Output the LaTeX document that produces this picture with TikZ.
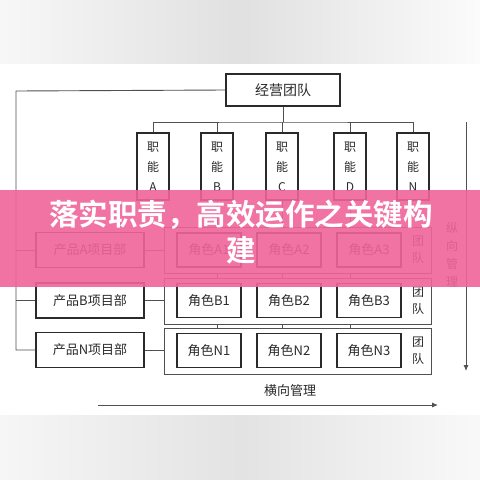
\documentclass[tikz,border=0pt]{standalone}
\usepackage{fontspec}
\newfontfamily\cjk{Noto Sans CJK SC}
\newfontfamily\cjkb{Noto Sans CJK SC Bold}
\usetikzlibrary{arrows.meta}
\definecolor{ln}{HTML}{2A2A2A}
\definecolor{cn}{HTML}{505050}
\definecolor{banner}{RGB}{240,100,155}
\tikzset{
  box/.style={draw=ln, line width=1.3pt, fill=white, inner sep=0pt, font=\cjk\fontsize{13}{15}\selectfont, text=ln},
  funcbox/.style={box, minimum width=32pt, minimum height=67pt, align=center, font=\cjk\fontsize{12}{20}\selectfont},
  projbox/.style={box, minimum width=108pt, minimum height=35pt},
  rolebox/.style={box, minimum width=64pt, minimum height=34pt},
  teambox/.style={draw=cn, line width=0.9pt, fill=white, inner sep=0pt, minimum width=267pt, minimum height=46pt},
  conn/.style={draw=cn, line width=0.9pt},
  lbl/.style={font=\cjk\fontsize{12}{18}\selectfont, text=ln, align=center, inner sep=0pt},
}
\begin{document}
\begin{tikzpicture}[x=1pt,y=-1pt]
\useasboundingbox (0,0) rectangle (480,480);
\fill[white] (0,0) rectangle (480,480);
% gray bands
\shade[left color=gray!6, right color=gray!3, middle color=gray!24] (0,0) rectangle (480,63);
\shade[left color=gray!7, right color=gray!5, middle color=gray!22] (0,415) rectangle (480,480);
% top node
\node[box, minimum width=114pt, minimum height=32pt, font=\cjk\fontsize{14}{16}\selectfont] (top) at (283,90) {经营团队};
% functions
\foreach \n/\x/\l in {fA/153/A, fB/217/B, fC/282/C, fD/350/D, fN/413/N}
  \node[funcbox] (\n) at (\x,166.5) {职\\能\\\l};
\coordinate (bus) at (283,122);
\draw[conn] (top.south) -- (bus);
\draw[conn] (fA.north) |- (bus) -| (fN.north);
\foreach \n in {fB,fC,fD} \draw[conn] (\n.north) -- (\n.north |- bus);
% vertical lines from functions down
\coordinate (vend) at (0,328);
\foreach \n in {fB,fC,fD} \draw[conn] (\n.south) -- (\n.south |- vend);
% team containers
\node[teambox] (tA) at (297.5,250) {};
\node[teambox] (tB) at (297.5,301.5) {};
\node[teambox] (tN) at (297.5,351.5) {};
% project boxes
\node[projbox] (pA) at (90,250) {产品A项目部};
\node[projbox] (pB) at (90,300.5) {产品B项目部};
\node[projbox] (pN) at (90,350) {产品N项目部};
\draw[conn] (pA.east) -- (pA.east -| tA.west);
\draw[conn] (pB.east) -- (pB.east -| tB.west);
\draw[conn] (pN.east) -- (pN.east -| tN.west);
% roles
\foreach \r/\y/\t in {A/250/tA, B/300.5/tB, N/350.5/tN} {
  \node[rolebox] (r\r1) at (209,\y) {角色\r1};
  \node[rolebox] (r\r2) at (289,\y) {角色\r2};
  \node[rolebox] (r\r3) at (369,\y) {角色\r3};
  \node[lbl, font=\cjk\fontsize{12}{17}\selectfont] (g\r) at (418,\y) {团\\队};
}
% left connector
\coordinate (lt) at (16,91);
\draw[conn] (top.west) -- (lt) |- (pN.west);
\draw[conn] (lt |- pA.west) -- (pA.west);
\draw[conn] (lt |- pB.west) -- (pB.west);
% right vertical arrow
\coordinate (va) at (466,122);
\coordinate (vb) at (466,371);
\draw[conn, -{Latex[length=6pt,width=5pt]}] (va) -- (vb);
\node[lbl] (vl) at (452,255) {纵\\向\\管\\理};
% bottom arrow
\coordinate (ha) at (98,405);
\coordinate (hb) at (438,405);
\draw[conn, -{Latex[length=6pt,width=5pt]}] (ha) -- (hb);
\node[lbl, font=\cjk\fontsize{13}{15}\selectfont] (hl) at (290,391) {横向管理};
% banner
\fill[banner, opacity=0.9] (0,190) rectangle (480,287);
\node[text=white, font=\cjkb\fontsize{29.5}{36}\selectfont, align=center, inner sep=0pt] (title) at (241,232) {落实职责，高效运作之关键构\\建};
\end{tikzpicture}
\end{document}
